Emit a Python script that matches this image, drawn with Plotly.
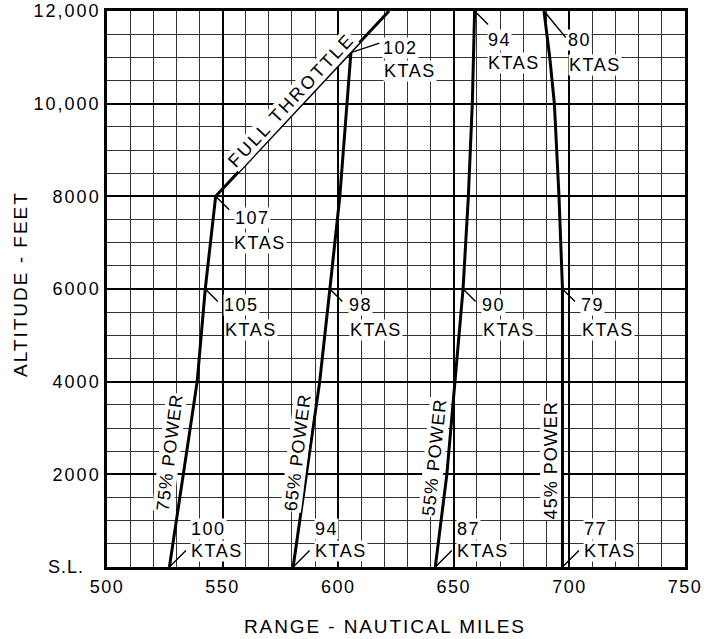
import numpy as np
import plotly.graph_objects as go

# ---------------- data ----------------
p75_alt = [0, 2000, 4000, 6000, 8000]
p75_rng = [527, 533, 539, 542.5, 547]
p65_alt = [0, 2000, 4000, 6000, 8000, 11100]
p65_rng = [580.5, 586.3, 592, 596.4, 600.7, 605.5]
p55_alt = [0, 2000, 4000, 6000, 8000, 10000, 12000]
p55_rng = [642, 647, 650.5, 654, 656.3, 658, 659]
p45_alt = [0, 2000, 4000, 6000, 8000, 10000, 11000, 12000]
p45_rng = [697, 697, 697, 697, 695.5, 693.5, 691.5, 689]
ft_alt = [8000, 12000]
ft_rng = [547, 622]

power_names = ["75% POWER", "65% POWER", "55% POWER", "45% POWER"]
full_throttle_name = "FULL THROTTLE"

# true airspeed labels: (curve index, altitude, KTAS)
ktas_curve = [0, 0, 0, 1, 1, 1, 2, 2, 2, 3, 3, 3]
ktas_alt = [0, 6000, 8000, 0, 6000, 11100, 0, 6000, 12000, 0, 6000, 12000]
ktas_val = ["100", "105", "107", "94", "98", "102", "87", "90", "94", "77", "79", "80"]

x_ticks = [500, 550, 600, 650, 700, 750]
y_ticks = [2000, 4000, 6000, 8000, 10000, 12000]
y_ticktext = ["2000", "4000", "6000", "8000", "10,000", "12,000"]
sea_level_text = "S.L."
x_title = "RANGE - NAUTICAL MILES"
y_title = "ALTITUDE - FEET"

# ---------------- styling ----------------
FONT = "Liberation Sans, Arial, sans-serif"
FS = 18


def sp(t, ls=1.5):
    return f"<span style='letter-spacing:{ls}px'>{t}</span>"


curves_alt = [p75_alt, p65_alt, p55_alt, p45_alt]
curves_rng = [p75_rng, p65_rng, p55_rng, p45_rng]

fig = go.Figure()
for a, r in zip(curves_alt, curves_rng):
    fig.add_trace(go.Scatter(x=r, y=a, mode="lines",
                             line=dict(color="black", width=3), showlegend=False,
                             hoverinfo="skip"))
fig.add_trace(go.Scatter(x=ft_rng, y=ft_alt, mode="lines",
                         line=dict(color="black", width=3), showlegend=False,
                         hoverinfo="skip"))

annotations = []

# leader/label offsets per label (pixels, y down): leader end, number pos, KTAS pos
offs = {
    "bottom": dict(lead=(18, -18), num=(22, -38), kt=(22, -16)),
    "mid": dict(lead=(14, 14), num=(19, 16), kt=(20, 41)),
    "107": dict(lead=(15, 15), num=(19, 22), kt=(18, 47)),
    "102": dict(lead=(30, -10), num=(32, -5), kt=(33, 18)),
    "top94": dict(lead=(15, 15), num=(13, 29), kt=(13, 52)),
    "top80": dict(lead=(23, 28), num=(24, 29), kt=(25, 54)),
}
kinds = ["bottom", "mid", "107", "bottom", "mid", "102",
         "bottom", "mid", "top94", "bottom", "mid", "top80"]

label_font = dict(family=FONT, size=FS, color="black")

for ci, alt, val, kind in zip(ktas_curve, ktas_alt, ktas_val, kinds):
    xr = float(np.interp(alt, curves_alt[ci], curves_rng[ci]))
    o = offs[kind]
    for txt, key in ((val, "num"), ("KTAS", "kt")):
        annotations.append(dict(x=xr, y=alt, xref="x", yref="y", text=sp(txt),
                                showarrow=False, xanchor="left", yanchor="middle",
                                xshift=o[key][0] - 1, yshift=-o[key][1],
                                bgcolor="white", borderpad=0, font=label_font))
    annotations.append(dict(x=xr, y=alt, xref="x", yref="y", text="",
                            showarrow=True, arrowhead=0, arrowwidth=1.4,
                            arrowcolor="black", standoff=0,
                            ax=o["lead"][0], ay=o["lead"][1]))

# power curve names
name_alt = [2462, 2462, 2376, 2311]
name_shift = [-17, -12, -14, -12]
name_angle = [-83, -83, -84, -90]
for i, nm in enumerate(power_names):
    xr = float(np.interp(name_alt[i], curves_alt[i], curves_rng[i]))
    annotations.append(dict(x=xr, y=name_alt[i], xref="x", yref="y", text=sp(nm, 1),
                            showarrow=False, textangle=name_angle[i],
                            xanchor="center", yanchor="middle", xshift=name_shift[i],
                            font=label_font, bgcolor="white", borderpad=0))

ft_lab_alt = 10090
annotations.append(dict(x=float(np.interp(ft_lab_alt, ft_alt, ft_rng)), y=ft_lab_alt,
                        xref="x", yref="y", text=sp(full_throttle_name, 2.5),
                        showarrow=False, textangle=-47, xshift=-15,
                        font=label_font, bgcolor="white", borderpad=0))

annotations.append(dict(x=500, y=0, xref="x", yref="y", text=sp(sea_level_text, 1),
                        showarrow=False, xanchor="right", yanchor="middle",
                        xshift=-21, font=label_font))

# axis titles
annotations.append(dict(x=0, y=0, xref="paper", yref="paper", xanchor="center",
                        yanchor="middle", xshift=278, yshift=-59,
                        text=sp(x_title, 1.9), showarrow=False,
                        font=dict(family=FONT, size=19, color="black")))
annotations.append(dict(x=0, y=0, xref="paper", yref="paper", xanchor="center",
                        yanchor="middle", xshift=-87, yshift=283,
                        text=sp(y_title, 2), showarrow=False, textangle=-90,
                        font=dict(family=FONT, size=19, color="black")))

fig.update_layout(
    width=704, height=639,
    margin=dict(l=107, r=19, t=11, b=72, autoexpand=False),
    paper_bgcolor="white", plot_bgcolor="white",
    font=dict(family=FONT, size=FS, color="black"),
    showlegend=False,
    annotations=annotations,
    xaxis=dict(range=[500, 750], tickmode="array", tickvals=x_ticks,
               ticktext=[sp(str(v)) for v in x_ticks], automargin=False,
               ticklabeloverflow="allow",
               showgrid=True, gridcolor="black", gridwidth=2,
               zeroline=False, showline=True, linecolor="black", linewidth=2.5,
               mirror=True, ticks="", ticklabelstandoff=2,
               minor=dict(tickmode="linear", tick0=500, dtick=10, showgrid=True,
                          gridcolor="#333", gridwidth=1)),
    yaxis=dict(range=[0, 12000], tickmode="array", tickvals=y_ticks,
               ticktext=[sp(t, 2) for t in y_ticktext], automargin=False,
               ticklabeloverflow="allow",
               showgrid=True, gridcolor="black", gridwidth=2,
               zeroline=False, showline=True, linecolor="black", linewidth=2.5,
               mirror=True, ticks="", ticklabelstandoff=0,
               minor=dict(tickmode="linear", tick0=0, dtick=500, showgrid=True,
                          gridcolor="#333", gridwidth=1)),
)

fig.write_html(
    "out.html",
    config={"displayModeBar": False},
    post_script="document.body.style.margin='0';document.body.style.overflow='hidden';",
)
